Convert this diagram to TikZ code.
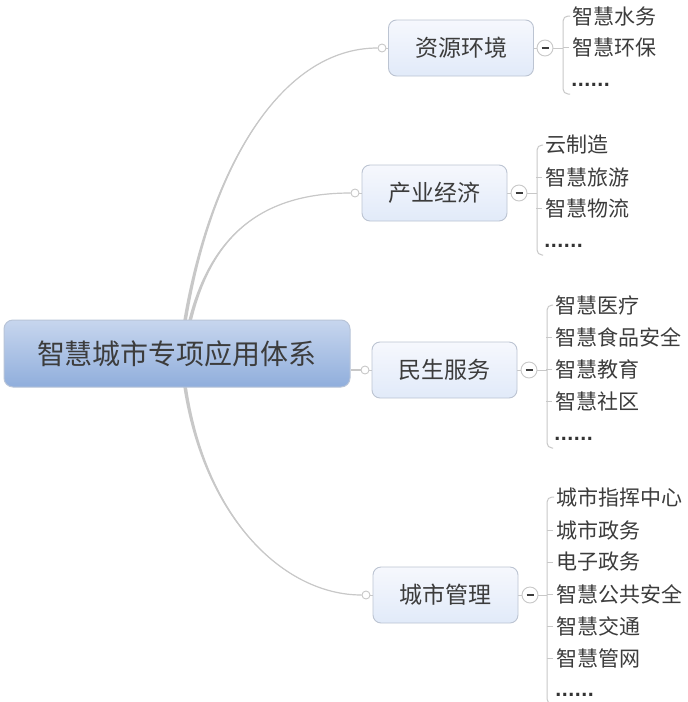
\documentclass[tikz,border=0pt]{standalone}
\usepackage{fontspec}
\setmainfont{Noto Sans CJK SC}
\newfontfamily\dotfont{DejaVu Sans}
\usetikzlibrary{backgrounds,calc}
\definecolor{lineg}{HTML}{C8C8C8}
\definecolor{txt}{HTML}{3C3C3C}
\definecolor{rootT}{HTML}{C7D6EE}
\definecolor{rootB}{HTML}{90AEDC}
\definecolor{rootD}{HTML}{B8C4D8}
\definecolor{brT}{HTML}{F6F8FD}
\definecolor{brB}{HTML}{E1EAF9}
\definecolor{brD}{HTML}{BCC4D2}
% tapered connector: start, control 1, control 2, end
\newcommand\mytaper[4]{%
  \fill[lineg] ($(#1)+(-1.8,0)$) .. controls ($(#2)+(-1.0,0)$) and (#3) .. (#4)
     .. controls (#3) and ($(#2)+(1.0,0)$) .. ($(#1)+(1.8,0)$) -- cycle;
  \draw[draw=lineg,line width=1.2pt] (#1) .. controls (#2) and (#3) .. (#4);
}
\begin{document}
\begin{tikzpicture}[x=1pt,y=-1pt,
  conn/.style={draw=lineg,line width=1.8pt},
  thin/.style={draw=lineg,line width=1pt},
  rootbox/.style={draw=rootD,line width=1pt,rounded corners=9pt,top color=rootT,bottom color=rootB,
    minimum width=346pt,minimum height=67pt,text=txt,font=\fontsize{28}{32}\selectfont,inner sep=0pt},
  branchbox/.style={draw=brD,line width=0.9pt,rounded corners=8pt,top color=brT,bottom color=brB,
    minimum width=145pt,minimum height=56pt,text=txt,font=\fontsize{23}{26}\selectfont,inner sep=0pt},
  opencirc/.style={circle,draw=lineg,line width=0.9pt,fill=white,minimum size=8pt,inner sep=0pt},
  minuscirc/.style={circle,draw=lineg,line width=0.9pt,fill=white,minimum size=16pt,inner sep=0pt,
    path picture={\draw[txt,line width=1.3pt] ([xshift=-3.5pt]path picture bounding box.center) -- ([xshift=3.5pt]path picture bounding box.center);}},
  leaf/.style={anchor=west,text=txt,font=\fontsize{21}{24}\selectfont,inner sep=0pt},
  dots/.style={anchor=base west,text=txt!85!black,font=\dotfont\fontsize{17}{20}\selectfont\bfseries,inner sep=0pt},
  brk/.style={draw=lineg,line width=1pt,rounded corners=5pt}
]
\useasboundingbox (0,0) rectangle (688,702);

% root and branches
\node[rootbox] (root) at (177,353.5) {智慧城市专项应用体系};
\coordinate (r1) at (185,321);
\coordinate (r2) at (190,321);
\coordinate (r4) at (185,386);

\node[branchbox] (b1) at (461,48) {资源环境};
\node[branchbox] (b2) at (434.5,193) {产业经济};
\node[branchbox] (b3) at (444.5,370) {民生服务};
\node[branchbox] (b4) at (445.5,595) {城市管理};

\node[opencirc] (c1) at (382,48) {};
\node[opencirc] (c2) at (355,193) {};
\node[opencirc] (c3) at (365,370) {};
\node[opencirc] (c4) at (366,595) {};

\node[minuscirc] (m1) at (545,48) {};
\node[minuscirc] (m2) at (519,193) {};
\node[minuscirc] (m3) at (529,370) {};
\node[minuscirc] (m4) at (530,595) {};

% group 1
\node[leaf] (l11) at (572,16) {智慧水务};
\node[leaf] (l12) at (572,47) {智慧环保};
\node[dots] (l13) at (571,86) {......};
% group 2
\node[leaf] (l21) at (545,145) {云制造};
\node[leaf] (l22) at (545,177) {智慧旅游};
\node[leaf] (l23) at (545,208) {智慧物流};
\node[dots] (l24) at (544,247) {......};
% group 3
\node[leaf] (l31) at (555,305) {智慧医疗};
\node[leaf] (l32) at (555,337) {智慧食品安全};
\node[leaf] (l33) at (555,369) {智慧教育};
\node[leaf] (l34) at (555,401) {智慧社区};
\node[dots] (l35) at (554,440) {......};
% group 4
\node[leaf] (l41) at (556,497) {城市指挥中心};
\node[leaf] (l42) at (556,530) {城市政务};
\node[leaf] (l43) at (556,562) {电子政务};
\node[leaf] (l44) at (556,594) {智慧公共安全};
\node[leaf] (l45) at (556,626) {智慧交通};
\node[leaf] (l46) at (556,658) {智慧管网};
\node[dots] (l47) at (555,696) {......};

\coordinate (k1) at (563,48);
\coordinate (k2) at (537,193);
\coordinate (k3) at (547,370);
\coordinate (k4) at (547,595);

\coordinate (q1a) at (210,170);
\coordinate (q1b) at (280,48);
\coordinate (q2a) at (212,232);
\coordinate (q2b) at (265,193);
\coordinate (q4a) at (205,520);
\coordinate (q4b) at (285,595);

\begin{scope}[on background layer]
  \fill[white] (0,0) rectangle (688,702);
  \mytaper{r1}{q1a}{q1b}{c1.west}
  \mytaper{r2}{q2a}{q2b}{c2.west}
  \mytaper{r4}{q4a}{q4b}{c4.west}
  \draw[conn] (root.east |- c3) -- (c3.west);
  \draw[thin] (c1.east) -- (b1.west);
  \draw[thin] (c2.east) -- (b2.west);
  \draw[thin] (c3.east) -- (b3.west);
  \draw[thin] (c4.east) -- (b4.west);
  \draw[thin] (b1.east) -- (m1.west);
  \draw[thin] (b2.east) -- (m2.west);
  \draw[thin] (b3.east) -- (m3.west);
  \draw[thin] (b4.east) -- (m4.west);
  \draw[thin] (m1.east) -- (k1);
  \draw[thin] (m2.east) -- (k2);
  \draw[thin] (m3.east) -- (k3);
  \draw[thin] (m4.east) -- (k4);
  % brackets
  \draw[brk] ([xshift=-2pt]l11.west) -| (k1) |- ([xshift=-1pt,yshift=-8pt]l13.base west);
  \draw[brk] ([xshift=-2pt]l21.west) -| (k2) |- ([xshift=-1pt,yshift=-8pt]l24.base west);
  \draw[brk] ([xshift=-2pt]l31.west) -| (k3) |- ([xshift=-1pt,yshift=-8pt]l35.base west);
  \draw[brk] ([xshift=-2pt]l41.west) -| (k4) |- ([xshift=-1pt,yshift=-8pt]l47.base west);
  % ticks
  \foreach \n in {l12,l22,l23,l32,l33,l34,l42,l43,l44,l45,l46}{
    \draw[thin] ([xshift=-3pt]\n.west) -- ++(-6,0);
  }
\end{scope}
\end{tikzpicture}
\end{document}
